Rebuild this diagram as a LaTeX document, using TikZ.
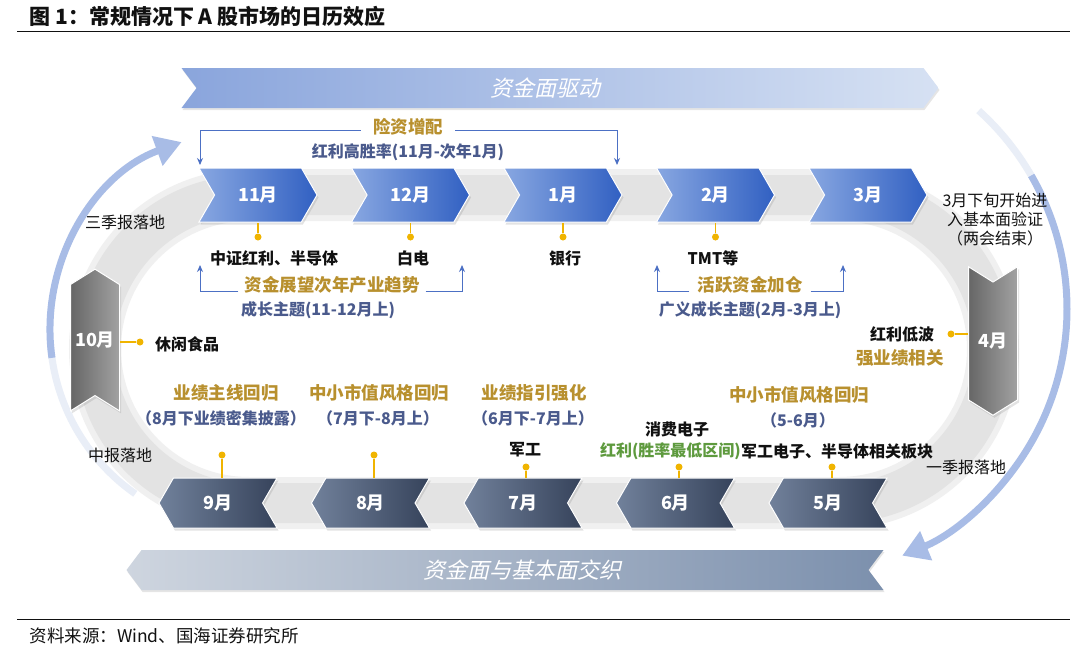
\documentclass[tikz,border=0pt]{standalone}
\usepackage{fontspec}
\setmainfont{Noto Sans CJK SC}
\newfontfamily\slantfont{Noto Sans CJK SC}[FakeSlant=0.22]
\usepackage{tikz}
\usetikzlibrary{arrows.meta,positioning,shapes.symbols,shadows}
\definecolor{ink}{HTML}{111111}
\definecolor{goldtx}{HTML}{B8902E}
\definecolor{navytx}{HTML}{4A5A8C}
\definecolor{greentx}{HTML}{5E9A3E}
\definecolor{pinc}{HTML}{F0B400}
\definecolor{brkc}{HTML}{4C70C4}
\definecolor{trackc}{HTML}{E3E3E3}
\definecolor{trackedge}{HTML}{F0F0F0}
\definecolor{arcc}{HTML}{A8BCE6}
\definecolor{arcfaint}{HTML}{E9EEF7}
\definecolor{uplight}{HTML}{88A7E1}
\definecolor{updark}{HTML}{3160C2}
\definecolor{dnlight}{HTML}{71819B}
\definecolor{dndark}{HTML}{36435B}
\definecolor{sidelight}{HTML}{A2A2A2}
\definecolor{sidedark}{HTML}{666666}
\definecolor{bantopl}{HTML}{8AA5DC}
\definecolor{bantopr}{HTML}{D6E1F3}
\definecolor{banbotl}{HTML}{CED5DF}
\definecolor{banbotr}{HTML}{7C90AD}
\newcommand\titlefont{\fontsize{21}{24}\selectfont\bfseries}
\newcommand\monfont{\fontsize{18}{20}\selectfont\bfseries}
\newcommand\banfont{\fontsize{22}{24}\selectfont\slantfont}
\newcommand\lblfont{\fontsize{16}{19}\selectfont}
\tikzset{
  mon/.style={signal,signal pointer angle=120,minimum width=118pt,minimum height=54pt,
    inner sep=0pt,draw=white,line width=1pt,text=white,font=\monfont,
    drop shadow={opacity=0.22,shadow xshift=1.5pt,shadow yshift=-2.5pt}},
  upmon/.style={mon,signal from=west,signal to=east,left color=uplight,right color=updark},
  dnmon/.style={mon,signal from=east,signal to=west,minimum height=50pt,
    left color=dnlight,right color=dndark},
  sidemon/.style={mon,minimum width=49pt,minimum height=136pt,signal pointer angle=116,
    left color=sidedark,right color=sidelight},
  banner/.style={signal,signal pointer angle=106,minimum width=757pt,minimum height=40pt,
    inner sep=0pt,text=white,font=\banfont,
    drop shadow={opacity=0.2,shadow xshift=1pt,shadow yshift=-2pt}},
  blk/.style={font=\lblfont\bfseries,text=ink,inner sep=1pt},
  note/.style={font=\lblfont,text=ink,inner sep=1pt,align=center},
  gold/.style={font=\fontsize{17.5}{20}\selectfont\bfseries,text=goldtx,inner sep=1pt},
  navy/.style={font=\lblfont\bfseries,text=navytx,inner sep=1pt},
  grn/.style={font=\lblfont\bfseries,text=greentx,inner sep=0pt},
  pindot/.style={circle,fill=pinc,inner sep=0pt,minimum size=7pt},
  pinline/.style={draw=pinc,line width=1.8pt},
  brk/.style={draw=brkc,line width=1pt,-{Stealth[length=7pt,width=6pt]}},
  bigarc/.style={draw=arcc,line width=7pt,-{Triangle[length=26pt,width=30pt]}},
  faintarc/.style={draw=arcfaint,line width=7pt}
}
\begin{document}
\begin{tikzpicture}[x=1pt,y=-1pt]
  \fill[white] (0,0) rectangle (1080,648);
  \useasboundingbox (0,0) rectangle (1080,648);
  % title and rules
  \node[anchor=west,font=\titlefont,text=ink] (title) at (26,16) {图 1：常规情况下 A 股市场的日历效应};
  \draw[ink,line width=1pt] (17,31) -- (1070,31);
  \draw[ink,line width=1pt] (17,619) -- (1070,619);
  \node[anchor=west,font=\fontsize{17.5}{20}\selectfont,text=ink] (src) at (26,636) {资料来源：Wind、国海证券研究所};
  % outer arrows
  \draw[faintarc] (250,330) ++(125:200) arc[start angle=125,end angle=176,radius=200];
  \draw[bigarc] (250,330) ++(172:200) arc[start angle=172,end angle=250,radius=200];
  \draw[faintarc] (800,309) ++(-48:267) arc[start angle=-48,end angle=-26,radius=267];
  \draw[bigarc] (800,309) ++(-30:267) arc[start angle=-30,end angle=67.5,radius=267];
  % track
  \draw[trackedge,line width=52pt] (249,195) -- (839,195) arc[start angle=-90,end angle=90,radius=154]
    -- (249,503) arc[start angle=90,end angle=270,radius=154] -- cycle;
  \draw[trackc,line width=40pt] (249,195) -- (839,195) arc[start angle=-90,end angle=90,radius=154]
    -- (249,503) arc[start angle=90,end angle=270,radius=154] -- cycle;
  % banners
  \node[banner,signal from=west,signal to=east,left color=bantopl,right color=bantopr] (fund) at (560,88) {资金面驱动\hspace*{30pt}};
  \node[banner,signal from=east,signal to=west,left color=banbotl,right color=banbotr] (mix) at (505,570) {\hspace*{34pt}资金面与基本面交织};
  % months
  \foreach \m [count=\i from 0] in {11,12,1,2,3}
    \node[upmon] (m\m) at ({258+152.5*\i},195) {\m{}月};
  \foreach \m [count=\i from 0] in {9,8,7,6,5}
    \node[dnmon] (m\m) at ({218+152.5*\i},503) {\m{}月};
  \node[sidemon,signal to=north,signal from=south] (m10) at (95,340) {10月};
  \node[sidemon,signal to=south,signal from=north] (m4) at (993,341) {4月};
  % pins
  \foreach \m/\x in {11/258,12/410.5,1/563,2/715.5}{
    \node[pindot] (d\m) at (\x,237) {};
    \draw[pinline] (d\m) -- (d\m |- m\m.south);
  }
  \foreach \m/\x/\y in {9/222/455,8/374/455,7/526/467,6/679/467,5/832/467}{
    \node[pindot] (d\m) at (\x,\y) {};
    \draw[pinline] (d\m) -- (d\m |- m\m.north);
  }
  \node[pindot] (d10) at (140,342) {};
  \draw[pinline] (d10) -- (m10.east |- d10);
  \node[pindot] (d4) at (951,334) {};
  \draw[pinline] (d4) -- (m4.west |- d4);
  % top labels
  \node[gold,inner xsep=12pt] (xz) at (408,127) {险资增配};
  \node[navy] (hg) at (408,152) {红利高胜率(11月-次年1月)};
  \coordinate (a11) at (200,165);
  \coordinate (a1) at (617,165);
  \draw[brk] ([yshift=-3pt]xz.west) -| (a11);
  \draw[brk] ([yshift=-3pt]xz.east) -| (a1);
  \node[blk] (l11) at (274,258) {中证红利、半导体};
  \node[blk] (l12) at (413,258) {白电};
  \node[blk] (l1) at (565,258) {银行};
  \node[blk] (l2) at (713,258) {TMT等};
  \node[gold,inner xsep=6pt] (zj) at (332,285) {资金展望次年产业趋势};
  \node[navy] (cz) at (318,310) {成长主题(11-12月上)};
  \coordinate (b11) at (200,265);
  \coordinate (b12) at (462,265);
  \draw[brk] ([yshift=-6pt]zj.west) -| (b11);
  \draw[brk] ([yshift=-6pt]zj.east) -| (b12);
  \node[gold,inner xsep=8pt] (hy) at (750,285) {活跃资金加仓};
  \node[navy] (gy) at (750,310) {广义成长主题(2月-3月上)};
  \coordinate (b2) at (657,265);
  \coordinate (b3) at (843,265);
  \draw[brk] ([yshift=-6pt]hy.west) -| (b2);
  \draw[brk] ([yshift=-6pt]hy.east) -| (b3);
  % side labels
  \node[note] (yz) at (995,220) {3月下旬开始进\\入基本面验证\\（两会结束）};
  \node[blk] (dbl) at (902,334) {红利低波};
  \node[gold] (qyj) at (900,358) {强业绩相关};
  \node[blk] (xx) at (187,344) {休闲食品};
  \node[note] (sj) at (125,222) {三季报落地};
  \node[note] (zb) at (120,455) {中报落地};
  \node[note] (yj) at (966,467) {一季报落地};
  % bottom labels
  \node[gold] (g9) at (226,393) {业绩主线回归};
  \node[navy] (n9) at (221,418) {（8月下业绩密集披露）};
  \node[gold] (g8) at (379,393) {中小市值风格回归};
  \node[navy] (n8) at (378,418) {（7月下-8月上）};
  \node[gold] (g7) at (534,393) {业绩指引强化};
  \node[navy] (n7) at (533,418) {（6月下-7月上）};
  \node[blk] (jg) at (525,450) {军工};
  \node[gold] (g5) at (799,395) {中小市值风格回归};
  \node[navy] (n5) at (798,420) {（5-6月）};
  \node[blk] (xf) at (677,429) {消费电子};
  \node[grn,anchor=east] (hl6) at (741,451) {红利(胜率最低区间)};
  \node[blk,inner sep=0pt,right=0pt of hl6] (jd) {军工电子、半导体相关板块};
\end{tikzpicture}
\end{document}
